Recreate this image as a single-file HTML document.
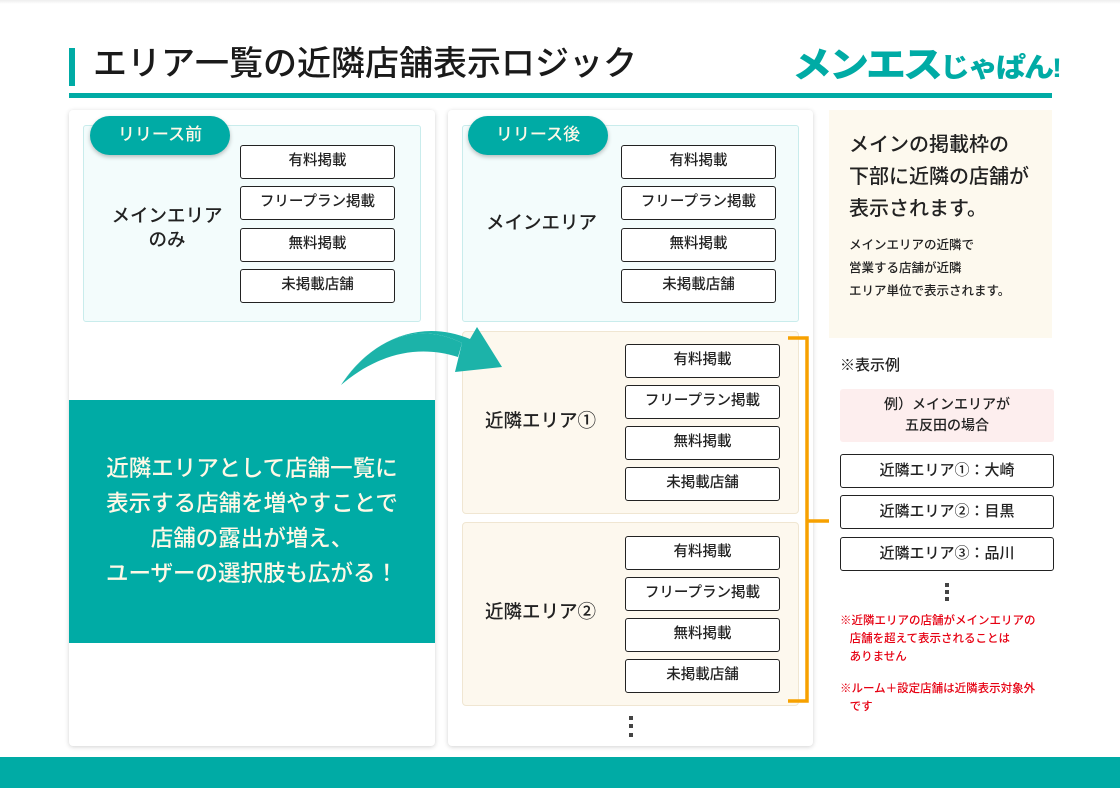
<!DOCTYPE html>
<html><head><meta charset="utf-8"><style>
*{margin:0;padding:0;box-sizing:border-box}
body{width:1120px;height:788px;position:relative;background:#fff;overflow:hidden;font-family:"Liberation Sans","Noto Sans CJK JP",sans-serif;color:#222}
.a{position:absolute}
.card{position:absolute;background:#fff;border-radius:4px;box-shadow:0 1px 5px rgba(0,0,0,.18)}
.inner{position:absolute;background:#f3fcfc;border:1px solid #c9ecec;border-radius:3px}
.nb{position:absolute;background:#fdf8ee;border:1px solid #f0e6d2;border-radius:4px}
.pill{position:absolute;width:140px;height:39px;border-radius:20px;background:#00aba5;color:#fff8e8;font-size:17px;font-weight:500;text-align:center;line-height:38px;box-shadow:0 2px 4px rgba(0,0,0,.25)}
.b{position:absolute;width:155px;height:34px;border:1.5px solid #222;border-radius:3px;background:#fff;font-size:14.5px;font-weight:500;text-align:center;line-height:31px}
.lbl{position:absolute;font-size:18.5px;font-weight:500;text-align:center;line-height:24px}
.rb{position:absolute;left:840px;width:214px;height:34px;border:1.5px solid #222;border-radius:3px;background:#fff;font-size:15px;font-weight:500;text-align:center;line-height:31px}
.dot{position:absolute;width:4px;height:4px;background:#444}
.red{position:absolute;color:#e60012;font-size:11.5px;font-weight:500;line-height:18px}
</style></head><body>
<div class="a" style="left:0;top:0;width:1120px;height:4px;background:linear-gradient(#eee,#fff)"></div>
<div class="a" style="left:69px;top:48px;width:6px;height:38px;background:#00aba5"></div>
<div class="a" style="left:93px;top:42px;font-size:34px;line-height:44px;color:#1a1a1a;font-weight:500">エリア一覧の近隣店舗表示ロジック</div>
<div class="a" style="left:792px;top:40px;font-size:40px;line-height:50px;font-weight:900;color:#00aba5;letter-spacing:-3px;white-space:nowrap;transform:scaleY(0.9);transform-origin:left center">メンエス<span style="font-size:30px;letter-spacing:-2px">じゃぱん!</span></div>
<div class="a" style="left:69px;top:93px;width:983px;height:5px;background:#00aba5"></div>

<div class="card" style="left:69px;top:110px;width:366px;height:636px"></div>
<div class="inner" style="left:83px;top:125px;width:338px;height:197px"></div>
<div class="pill" style="left:90px;top:116px">リリース前</div>
<div class="lbl" style="left:97px;top:204px;width:140px">メインエリア<br>のみ</div>
<div class="b" style="left:240px;top:145px">有料掲載</div>
<div class="b" style="left:240px;top:186px">フリープラン掲載</div>
<div class="b" style="left:240px;top:228px">無料掲載</div>
<div class="b" style="left:240px;top:269px">未掲載店舗</div>
<div class="a" style="left:69px;top:400px;width:366px;height:243px;background:#00aba5;color:#fff8e6;font-size:22.5px;font-weight:500;line-height:35px;text-align:center;padding-top:51px;white-space:nowrap">近隣エリアとして店舗一覧に<br>表示する店舗を増やすことで<br>店舗の露出が増え、<br>ユーザーの選択肢も広がる！</div>

<div class="card" style="left:448px;top:110px;width:365px;height:636px"></div>
<div class="inner" style="left:462px;top:125px;width:337px;height:197px"></div>
<div class="pill" style="left:468px;top:116px">リリース後</div>
<div class="lbl" style="left:468px;top:211px;width:147px">メインエリア</div>
<div class="b" style="left:621px;top:145px">有料掲載</div>
<div class="b" style="left:621px;top:186px">フリープラン掲載</div>
<div class="b" style="left:621px;top:228px">無料掲載</div>
<div class="b" style="left:621px;top:269px">未掲載店舗</div>

<div class="nb" style="left:462px;top:331px;width:337px;height:183px"></div>
<div class="lbl" style="left:466px;top:409px;width:149px">近隣エリア①</div>
<div class="b" style="left:625px;top:344px">有料掲載</div>
<div class="b" style="left:625px;top:385px">フリープラン掲載</div>
<div class="b" style="left:625px;top:426px">無料掲載</div>
<div class="b" style="left:625px;top:467px">未掲載店舗</div>

<div class="nb" style="left:462px;top:522px;width:337px;height:184px"></div>
<div class="lbl" style="left:466px;top:600px;width:149px">近隣エリア②</div>
<div class="b" style="left:625px;top:536px">有料掲載</div>
<div class="b" style="left:625px;top:577px">フリープラン掲載</div>
<div class="b" style="left:625px;top:618px">無料掲載</div>
<div class="b" style="left:625px;top:659px">未掲載店舗</div>
<div class="dot" style="left:629px;top:716px"></div>
<div class="dot" style="left:629px;top:724px"></div>
<div class="dot" style="left:629px;top:733px"></div>

<svg class="a" style="left:0;top:0" width="1120" height="788">
<path d="M341,385 C375,335 420,322 462,343 L455,372 L502,367 L477,327 L470,339 C420,318 370,340 341,385 Z" fill="#1cb3a9"/>
<path d="M341,385 C380,352 420,345 458,357 L462,343 C420,322 375,335 341,385Z" fill="#1cb3a9"/>
<polyline points="788,338 807,338 807,701 788,701" fill="none" stroke="#f7a100" stroke-width="3.5"/>
<line x1="807" y1="521" x2="829" y2="521" stroke="#f7a100" stroke-width="3.5"/>
</svg>

<div class="a" style="left:829px;top:110px;width:223px;height:228px;background:#fdf9ee"></div>
<div class="a" style="left:849px;top:129px;font-size:20px;font-weight:500;line-height:32px;color:#222">メインの掲載枠の<br>下部に近隣の店舗が<br>表示されます。</div>
<div class="a" style="left:849px;top:234px;font-size:12.5px;font-weight:500;line-height:23px;color:#222">メインエリアの近隣で<br>営業する店舗が近隣<br>エリア単位で表示されます。</div>
<div class="a" style="left:840px;top:355px;font-size:15px;font-weight:500;line-height:22px">※表示例</div>
<div class="a" style="left:840px;top:389px;width:214px;height:53px;background:#fdeeee;border-radius:3px;font-size:14px;font-weight:500;line-height:21px;text-align:center;padding-top:5px">例）メインエリアが<br>五反田の場合</div>
<div class="rb" style="top:454px">近隣エリア①：大崎</div>
<div class="rb" style="top:495px">近隣エリア②：目黒</div>
<div class="rb" style="top:537px">近隣エリア③：品川</div>
<div class="dot" style="left:945px;top:583px"></div>
<div class="dot" style="left:945px;top:590px"></div>
<div class="dot" style="left:945px;top:597px"></div>
<div class="red" style="left:840px;top:612px">※近隣エリアの店舗がメインエリアの<br>&nbsp;&nbsp;&nbsp;店舗を超えて表示されることは<br>&nbsp;&nbsp;&nbsp;ありません</div>
<div class="red" style="left:840px;top:680px">※ルーム＋設定店舗は近隣表示対象外<br>&nbsp;&nbsp;&nbsp;です</div>

<div class="a" style="left:0;top:757px;width:1120px;height:31px;background:#00aba5"></div>
</body></html>
